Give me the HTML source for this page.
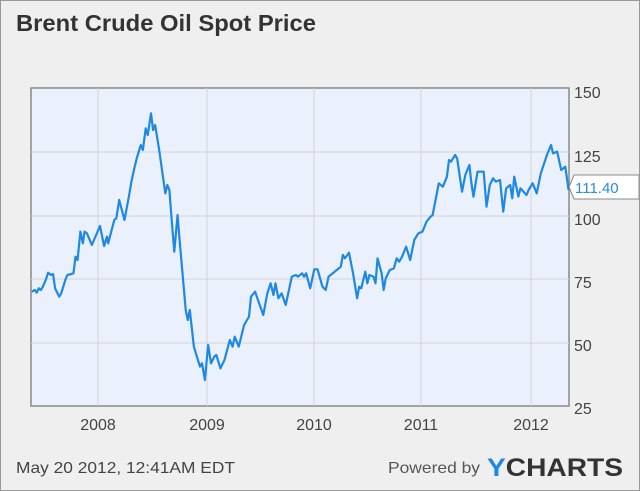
<!DOCTYPE html>
<html><head><style>
body{margin:0;background:#fff}
.w{position:relative;width:638px;height:489px;border:1px solid #999;background:#efefef;font-family:"Liberation Sans",sans-serif;overflow:hidden}
</style></head><body><div class="w">
<svg width="640" height="491" style="position:absolute;left:-1px;top:-1px">
<text x="16" y="31" font-size="23" font-weight="bold" fill="#333" font-family="Liberation Sans, sans-serif" textLength="300" lengthAdjust="spacingAndGlyphs">Brent Crude Oil Spot Price</text>
<rect x="31" y="88" width="538" height="318" fill="#eaf1fc" stroke="#888" stroke-width="1.5"/>
<g stroke="#d4d4d4" stroke-width="1">
<line x1="31" x2="569" y1="152" y2="152"/><line x1="31" x2="569" y1="216" y2="216"/>
<line x1="31" x2="569" y1="279" y2="279"/><line x1="31" x2="569" y1="343" y2="343"/>
<line x1="98" x2="98" y1="88" y2="406"/><line x1="207" x2="207" y1="88" y2="406"/>
<line x1="314" x2="314" y1="88" y2="406"/><line x1="421" x2="421" y1="88" y2="406"/>
<line x1="531" x2="531" y1="88" y2="406"/>
</g>
<g font-size="16" fill="#444" font-family="Liberation Sans, sans-serif">
<text x="574" y="98">150</text><text x="574" y="162">125</text><text x="574" y="225">100</text>
<text x="574" y="288">75</text><text x="574" y="351">50</text><text x="574" y="414">25</text>
<g text-anchor="middle"><text x="98" y="430">2008</text><text x="207" y="430">2009</text><text x="314" y="430">2010</text><text x="421" y="430">2011</text><text x="531" y="430">2012</text></g>
</g>
<path d="M569,187 L574,175 L639,175 L639,199 L574,199 Z" fill="#fff" stroke="#888"/>
<text x="575" y="193" font-size="15" fill="#2a8ae6" font-family="Liberation Sans, sans-serif">111.40</text>
<g transform="translate(0,70) scale(0.40816,0.33333)">
<path fill="none" stroke="#1e88e5" stroke-width="2.2" vector-effect="non-scaling-stroke" stroke-linejoin="round" d="M78,665 L85,660 L90,668 L95,655 L100,660 L105,650 L112,630 L118,608 L125,615 L130,612 L135,655 L145,680 L150,670 L160,630 L165,615 L175,612 L180,610 L185,560 L190,570 L197,485 L203,520 L207,485 L213,490 L225,525 L245,468 L255,528 L262,500 L265,520 L280,450 L285,445 L292,390 L305,450 L315,385 L322,335 L330,290 L335,265 L345,225 L350,240 L357,175 L362,195 L370,130 L375,180 L380,165 L390,240 L405,370 L410,345 L415,360 L420,440 L427,545 L435,435 L440,510 L455,720 L460,750 L465,720 L475,830 L480,850 L490,890 L495,880 L502,930 L510,825 L517,880 L525,860 L530,855 L540,895 L550,870 L563,810 L570,830 L575,800 L585,830 L598,765 L610,740 L615,680 L625,665 L632,690 L645,735 L655,670 L663,640 L670,675 L675,640 L682,685 L690,670 L700,705 L715,620 L725,615 L730,620 L740,610 L745,620 L750,610 L760,655 L770,598 L778,598 L790,650 L798,660 L805,620 L825,600 L835,590 L840,555 L845,565 L855,548 L865,610 L875,685 L880,650 L885,655 L895,605 L900,640 L905,615 L915,620 L920,640 L925,565 L935,610 L940,660 L945,625 L955,600 L965,595 L972,565 L978,575 L985,560 L995,530 L1005,570 L1015,510 L1025,490 L1035,485 L1045,455 L1055,440 L1060,435 L1075,340 L1085,350 L1095,320 L1100,270 L1105,275 L1115,255 L1120,265 L1132,365 L1140,315 L1150,285 L1155,340 L1160,380 L1170,305 L1185,305 L1192,410 L1200,345 L1208,325 L1215,335 L1225,330 L1233,425 L1240,355 L1250,345 L1255,385 L1260,320 L1270,380 L1275,355 L1290,375 L1295,360 L1305,340 L1315,370 L1325,310 L1340,255 L1350,225 L1355,250 L1365,245 L1375,300 L1385,290 L1393,360"/>
</g>
<text x="16" y="473" font-size="16" fill="#444" font-family="Liberation Sans, sans-serif" textLength="219" lengthAdjust="spacingAndGlyphs">May 20 2012, 12:41AM EDT</text>
<text x="388" y="473" font-size="16" fill="#555" font-family="Liberation Sans, sans-serif" textLength="92" lengthAdjust="spacingAndGlyphs">Powered by</text>
<text x="487" y="476" font-size="25" font-weight="bold" fill="#333" font-family="Liberation Sans, sans-serif" textLength="136" lengthAdjust="spacingAndGlyphs"><tspan fill="#1e88e5">Y</tspan>CHARTS</text>
</svg>
</div></body></html>
